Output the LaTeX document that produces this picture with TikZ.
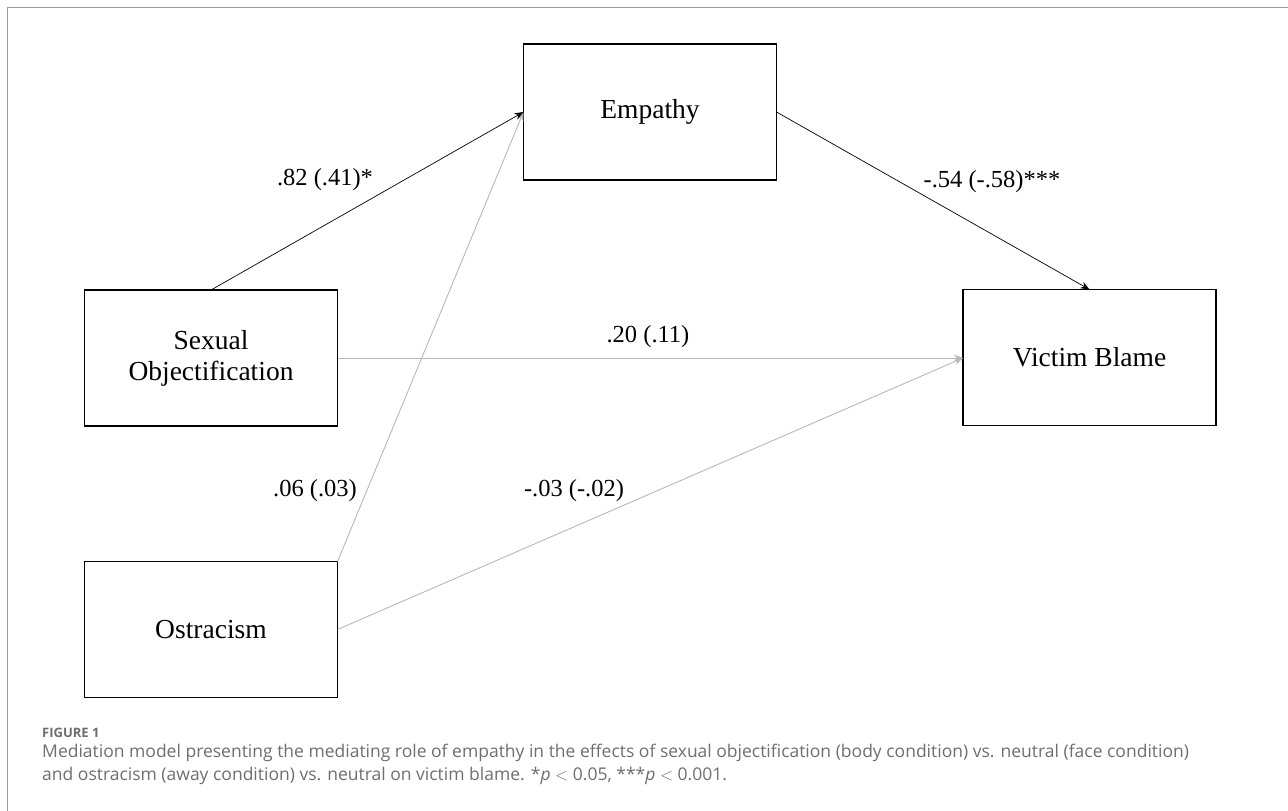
\documentclass[tikz,border=0pt]{standalone}
\usepackage{fontspec}
\setmainfont{Liberation Serif}
\newfontfamily\capfont{Open Sans}
\usetikzlibrary{arrows.meta,calc}
\definecolor{pathgray}{HTML}{B8B8B8}
\definecolor{capgray}{HTML}{6E6E6E}
\definecolor{framegray}{HTML}{9A9A9A}
\tikzset{
  varbox/.style={draw=black,line width=1.4pt,minimum width=253pt,minimum height=136pt,inner sep=0pt,outer sep=0pt,align=center,font=\fontsize{27.5}{31}\selectfont},
  blackpath/.style={draw=black,line width=0.7pt,-{Stealth[length=9pt,width=7pt]}},
  graypath/.style={draw=pathgray,line width=0.9pt,-{Stealth[length=9pt,width=7pt]}},
  coef/.style={font=\fontsize{24.5}{28}\selectfont,inner sep=0pt},
}
\begin{document}
\begin{tikzpicture}[x=1pt,y=-1pt]
\useasboundingbox (0,0) rectangle (1288,811);
\draw[framegray,line width=1pt] (7,811) -- (7,7) -- (1288,7);
\node[varbox] (EMP) at (650,112) {Empathy};
\node[varbox] (SO) at (211,358) {Sexual\\Objectification};
\node[varbox] (OS) at (211,629.5) {Ostracism};
\node[varbox] (VB) at (1089.5,357.5) {Victim Blame};
\coordinate (VBin) at (VB.west |- SO.east);
\draw[graypath] (OS.north east) -- (EMP.west);
\draw[graypath] (SO.east) -- (VBin);
\draw[graypath] (OS.east) -- (VBin);
\draw[blackpath] (SO.north) -- (EMP.west);
\draw[blackpath] (EMP.east) -- (VB.north);
\node[coef] (c1) at (325,180) {.82 (.41)*};
\node[coef] (c2) at (992,182) {-.54 (-.58)***};
\node[coef] (c3) at (648,337) {.20 (.11)};
\node[coef] (c4) at (315,491) {.06 (.03)};
\node[coef] (c5) at (574,491) {-.03 (-.02)};
\node[anchor=west,text=capgray,inner sep=0pt,font=\capfont\bfseries\fontsize{13}{16}\selectfont] (fig) at (42,733) {FIGURE 1};
\node[anchor=north west,text=capgray,inner sep=0pt,align=left,font=\capfont\fontsize{17.5}{23}\selectfont] (cap) at (42,744) {Mediation model presenting the mediating role of empathy in the effects of sexual objectification (body condition) vs. neutral (face condition)\\and ostracism (away condition) vs. neutral on victim blame. *\textit{p} $<$ 0.05, ***\textit{p} $<$ 0.001.};
\end{tikzpicture}
\end{document}
